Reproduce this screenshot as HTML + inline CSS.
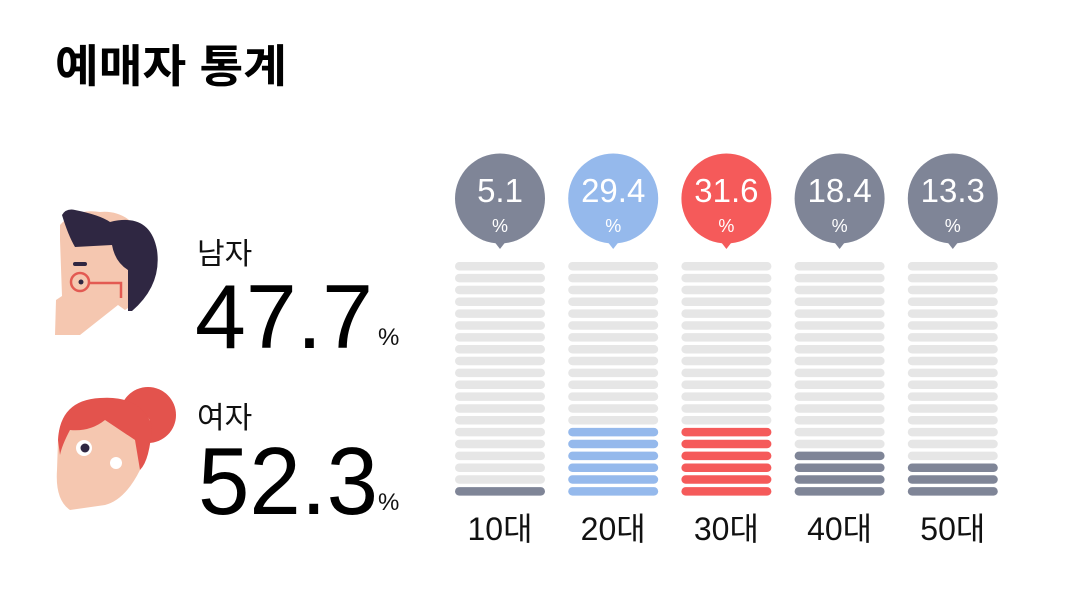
<!DOCTYPE html>
<html><head><meta charset="utf-8"><style>
html,body{margin:0;padding:0;background:#fff;}
svg{display:block;font-family:"Liberation Sans","Noto Sans CJK KR",sans-serif;}
</style></head><body>
<svg id="chart" width="1080" height="610" viewBox="0 0 1080 610">
<text x="55" y="82" font-size="45" font-weight="bold" textLength="232" lengthAdjust="spacingAndGlyphs" fill="#000">예매자 통계</text>
<g>
<path d="M60 240 L60 225 Q75 208 100 212 Q120 210 135 225 Q150 235 152 258 Q152 280 140 300 L125 310 L118 305 L80 335 L55 335 L56 300 L62 296 Z" fill="#f5c7b0"/>
<path d="M62 215 Q66 208 75 210 Q100 215 110 222 Q150 212 157 250 Q162 285 132 311 L128 311 L128 270 Q115 262 112 245 L75 247 Q68 235 62 215 Z" fill="#2f2742"/>
<circle cx="80" cy="282" r="9" fill="none" stroke="#e35a52" stroke-width="2.5"/>
<circle cx="81" cy="282" r="2.5" fill="#2f2742"/>
<path d="M89 283 L121 283 L121 298" fill="none" stroke="#e35a52" stroke-width="2.5"/>
<rect x="73" y="262" width="14" height="4" rx="2" fill="#2f2742"/>
</g>
<g>
<circle cx="148" cy="415" r="28" fill="#e3534d"/>
<path d="M58 440 Q60 405 95 400 Q130 395 150 420 L140 470 Q125 500 105 505 L70 510 Q55 500 57 470 Z" fill="#f5c7b0"/>
<path d="M58 440 Q60 400 100 398 Q140 395 152 425 Q150 460 140 470 L135 440 Q120 430 105 420 Q90 432 70 430 Q62 445 60 455 Z" fill="#e3534d"/>
<circle cx="84" cy="448" r="8" fill="#fff"/><circle cx="85" cy="448" r="4.5" fill="#2f2742"/>
<circle cx="116" cy="463" r="6" fill="#fff"/>
</g>
<text x="197" y="264" font-size="30" fill="#111">남자</text>
<text x="195" y="348" font-size="91" textLength="178" lengthAdjust="spacingAndGlyphs" fill="#000">47.7</text>
<text x="378" y="345" font-size="24" fill="#111">%</text>
<text x="197" y="428" font-size="30" fill="#111">여자</text>
<text x="198" y="514" font-size="96" textLength="180" lengthAdjust="spacingAndGlyphs" fill="#000">52.3</text>
<text x="378" y="510" font-size="24" fill="#111">%</text>
<g id="bars"></g>
</svg>
<script>
const categories = ['10대','20대','30대','40대','50대'];
const values = [5.1, 29.4, 31.6, 18.4, 13.3];
const valueLabels = ['5.1','29.4','31.6','18.4','13.3'];
const colors = ['#7f8597','#95b9ec','#f55a5a','#7f8597','#7f8597'];
const NS='http://www.w3.org/2000/svg';
const g=document.getElementById('bars');
const ROWS=20, STEP=5;
function colX(i){return 455+i*113.2;}
function rowY(r){return 262+r*11.85;}
function mk(tag,attrs){const e=document.createElementNS(NS,tag);for(const k in attrs)e.setAttribute(k,attrs[k]);g.appendChild(e);return e;}
categories.forEach((c,i)=>{
  const x=colX(i), w=90, cx=x+w/2;
  const filled=Math.round(values[i]/STEP);
  for(let r=0;r<ROWS;r++){
    const on = r>=ROWS-filled;
    const b=mk('rect',{x:x,y:rowY(r),width:w,height:8.5,rx:4.25,fill:on?colors[i]:'#e6e6e6'});
    
    
  }
  const bub=mk('path',{d:`M${cx-7} 240 L${cx} 249 L${cx+7} 240 Z`,fill:colors[i]});
  
  
  const circ=mk('circle',{cx:cx,cy:198.5,r:45,fill:colors[i]});
  
  
  const t=mk('text',{x:cx,y:202,'font-size':33,fill:'#fff','text-anchor':'middle'});
  t.textContent=valueLabels[i];
  
  
  const p=mk('text',{x:cx,y:232,'font-size':18,fill:'#fff','text-anchor':'middle'});
  p.textContent='%';
  
  
  const l=mk('text',{x:cx,y:540,'font-size':32,fill:'#111','text-anchor':'middle'});
  l.textContent=c;
  
  
});
</script>
</body></html>
